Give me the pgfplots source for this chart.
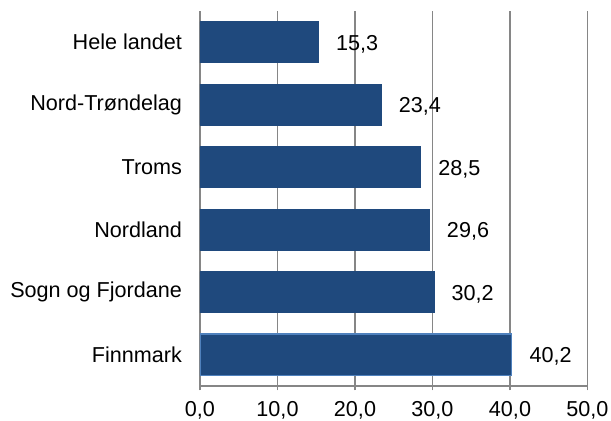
\documentclass[border=0pt]{standalone}
\usepackage{fontspec}
\setmainfont{Liberation Sans}
\usepackage{pgfplots}
\pgfplotsset{compat=1.18}
\definecolor{barblue}{HTML}{1F497D}
\definecolor{edgeblue}{HTML}{4F81BD}
\definecolor{axgray}{HTML}{868686}
\tikzset{commafmt/.style={/pgf/number format/fixed, /pgf/number format/fixed zerofill,
  /pgf/number format/precision=1, /pgf/number format/use comma, /pgf/number format/assume math mode=true}}
\begin{document}
\fontsize{10.8}{13}\selectfont
\begin{tikzpicture}
\useasboundingbox (-100pt,-17.5pt) rectangle (205.5pt,193pt);
\begin{axis}[
    at={(0,0)}, anchor=south west,
    scale only axis,
    width=193.75pt, height=187.5pt,
    xbar, bar width=0.66, bar shift=0pt,
    xmin=0, xmax=50,
    ymin=-0.5, ymax=5.5,
    axis x line*=bottom, axis y line*=left,
    axis line style={axgray, line width=0.8pt},
    xtick={0,10,...,50},
    xticklabels={{0,0},{10,0},{20,0},{30,0},{40,0},{50,0}},
    xmajorgrids,
    grid style={axgray, line width=0.8pt},
    tick style={axgray, line width=0.8pt},
    tick align=outside,
    major tick length=2.2pt,
    xticklabel style={inner sep=1pt, anchor=north, yshift=-4.5pt},
    ytick={0,1,2,3,4,5},
    yticklabels={Finnmark,Sogn og Fjordane,Nordland,Troms,Nord-Trøndelag,Hele landet},
    ytick style={draw=none},
    yticklabel style={xshift=-3pt},
    extra y ticks={-0.5,0.5,1.5,2.5,3.5,4.5,5.5},
    extra y tick labels={},
    extra y tick style={tick style={axgray, line width=0.8pt, draw=axgray}, major tick length=2.2pt},
    nodes near coords,
    nodes near coords style={commafmt},
    every node near coord/.append style={anchor=west, xshift=5pt, yshift=-1pt, black},
    ]
\addplot[fill=barblue, draw=barblue] coordinates {(30.2,1) (29.6,2) (28.5,3) (23.4,4) (15.3,5)};
\addplot[fill=barblue, draw=edgeblue, line width=0.8pt] coordinates {(40.2,0)};
\end{axis}
\end{tikzpicture}
\end{document}
